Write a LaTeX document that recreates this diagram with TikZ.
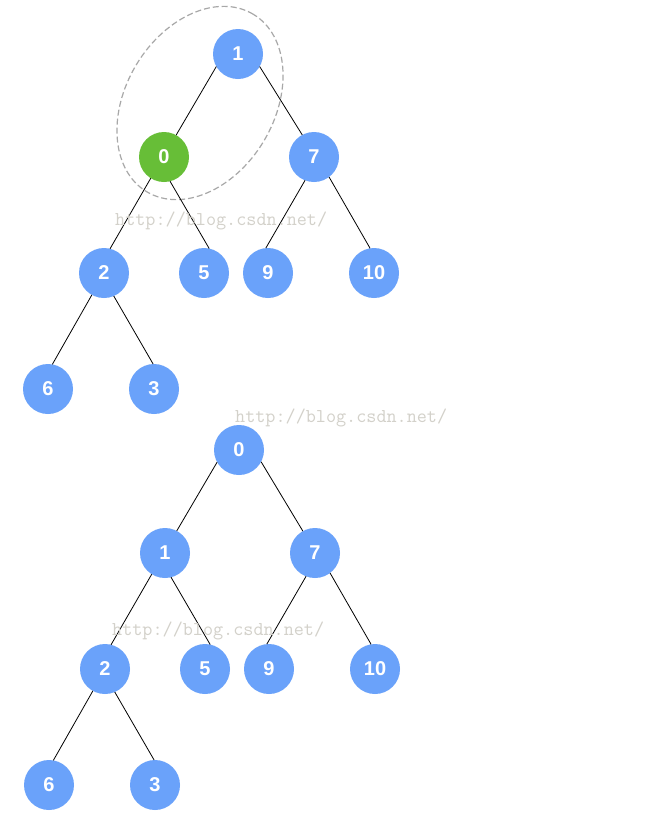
\documentclass[tikz,border=0pt]{standalone}
\usepackage{fontspec}
\setsansfont{Liberation Sans}
\usepackage{tikz}
\usetikzlibrary{backgrounds,calc}
\definecolor{nodeblue}{HTML}{6AA2FA}
\definecolor{nodegreen}{HTML}{67BE37}
\definecolor{markgray}{HTML}{D3D1CA}
\definecolor{ringgray}{HTML}{A8A8A8}
\tikzset{
  heapnode/.style={circle, fill=nodeblue, minimum size=50pt, inner sep=0pt, outer sep=0pt, text=white, font=\sffamily\bfseries\fontsize{20}{20}\selectfont},
  swapnode/.style={heapnode, fill=nodegreen},
  edge/.style={black, line width=0.8pt},
  ring/.style={ringgray, line width=1.2pt, dash pattern=on 6pt off 3pt},
  watermark/.style={anchor=west, inner sep=0pt, text=markgray, font=\ttfamily\fontsize{19.6}{19.6}\selectfont}
}
\begin{document}
\begin{tikzpicture}[x=1pt,y=1pt]
\useasboundingbox[fill=white] (0,0) rectangle (660,-817);
\draw[ring, rotate around={59:(200,-103)}] (200,-103) ellipse [x radius=103.5pt, y radius=74.3pt];
\node[heapnode] (t1) at (238,-54) {1};
\node[swapnode] (t0) at (164,-157) {0};
\node[heapnode] (t7) at (314,-157) {7};
\node[heapnode] (t2) at (104,-273) {2};
\node[heapnode] (t5) at (204,-273) {5};
\node[heapnode] (t9) at (268,-273) {9};
\node[heapnode] (t10) at (374,-273) {10};
\node[heapnode] (t6) at (48,-389) {6};
\node[heapnode] (t3) at (154,-389) {3};
\draw[edge] (t1.210) -- (t0.61);
\draw[edge] (t1.-30) -- (t7.118);
\draw[edge] (t0.238) -- (t2.76);
\draw[edge] (t0.-76) -- (t5.78);
\draw[edge] (t7.249) -- (t9.95);
\draw[edge] (t7.-53) -- (t10.99);
\draw[edge] (t2.241) -- (t6.80);
\draw[edge] (t2.-67) -- (t3.92);
\node[heapnode] (b0) at (239,-450) {0};
\node[heapnode] (b1) at (165,-553) {1};
\node[heapnode] (b7) at (315,-553) {7};
\node[heapnode] (b2) at (105,-669) {2};
\node[heapnode] (b5) at (205,-669) {5};
\node[heapnode] (b9) at (269,-669) {9};
\node[heapnode] (b10) at (375,-669) {10};
\node[heapnode] (b6) at (49,-785) {6};
\node[heapnode] (b3) at (155,-785) {3};
\draw[edge] (b0.209) -- (b1.62);
\draw[edge] (b0.-28) -- (b7.119);
\draw[edge] (b1.238) -- (b2.76);
\draw[edge] (b1.-76) -- (b5.78);
\draw[edge] (b7.249) -- (b9.95);
\draw[edge] (b7.-53) -- (b10.99);
\draw[edge] (b2.241) -- (b6.80);
\draw[edge] (b2.-67) -- (b3.92);
\node[watermark] (wm1) at (115,-221) {http://blog.csdn.net/};
\node[watermark] (wm2) at (235,-418) {http://blog.csdn.net/};
\node[watermark] (wm3) at (112,-631) {http://blog.csdn.net/};
\end{tikzpicture}
\end{document}
